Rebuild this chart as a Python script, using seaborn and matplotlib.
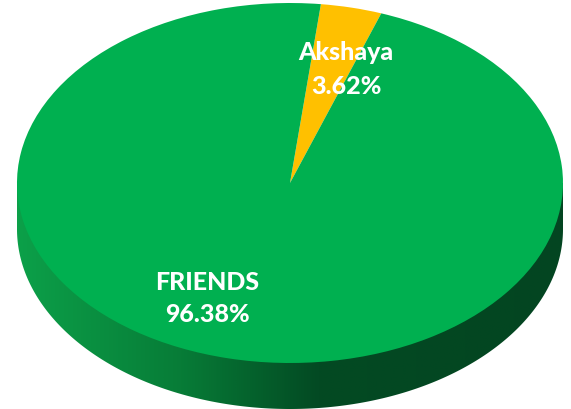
import numpy as np
import matplotlib
matplotlib.use("Agg")
import matplotlib.pyplot as plt
import seaborn as sns
from matplotlib.colors import LinearSegmentedColormap
from matplotlib.patches import Polygon

# ---- data ----
names = ["Akshaya", "FRIENDS"]
shares = [3.62, 96.38]
pct_labels = ["3.62%", "96.38%"]
slice_colors = ["#FFC000", "#00B050"]

sns.set_theme(style="white")
plt.rcParams['font.family'] = ['Lato', 'DejaVu Sans']

W, H = 571, 409
fig = plt.figure(figsize=(W / 100, H / 100), dpi=100)
ax = fig.add_axes([0, 0, 1, 1])

# geometry of the tilted pie (pixels)
cx, cy, a, b, depth = 290, 183, 273, 180, 46
d = depth / b

wedges, _ = ax.pie(shares, colors=slice_colors, startangle=83.5,
                   counterclock=False, radius=1, center=(0, 0),
                   wedgeprops=dict(linewidth=0, antialiased=True))
for w in wedges:
    w.set_zorder(3)

ax.set_aspect('auto')
ax.set_xlim(-cx / a, (W - cx) / a)
ax.set_ylim(-(H - cy) / b, cy / b)
ax.axis('off')

# side wall with gradient
t = np.linspace(np.pi, 2 * np.pi, 300)
verts = [(-1, 0)] + list(zip(np.cos(t), np.sin(t) - d)) + [(1, 0)]
wall = Polygon(verts, closed=True, facecolor='none', edgecolor='none')
ax.add_patch(wall)
cmap = LinearSegmentedColormap.from_list(
    "wall", [(0.0, "#0ca049"), (0.3, "#077c37"), (0.55, "#034a23"), (1.0, "#034521")])
grad = np.linspace(0, 1, 512).reshape(1, -1)
im = ax.imshow(grad, extent=(-1, 1, -1 - d, 0), aspect='auto', cmap=cmap,
               zorder=1, interpolation='bilinear')
im.set_clip_path(wall)

# labels
label_pos = {"Akshaya": ((346, 53), (346, 86)), "FRIENDS": ((207, 282), (207, 315))}
for nm, pct in zip(names, pct_labels):
    (x1, y1), (x2, y2) = label_pos[nm]
    for txt, (px, py) in ((nm, (x1, y1)), (pct, (x2, y2))):
        ax.text((px - cx) / a, (cy - py) / b, txt, color='white', fontsize=18,
                fontweight='black', ha='center', va='center', zorder=5)

fig.savefig("out.png", dpi=100)
